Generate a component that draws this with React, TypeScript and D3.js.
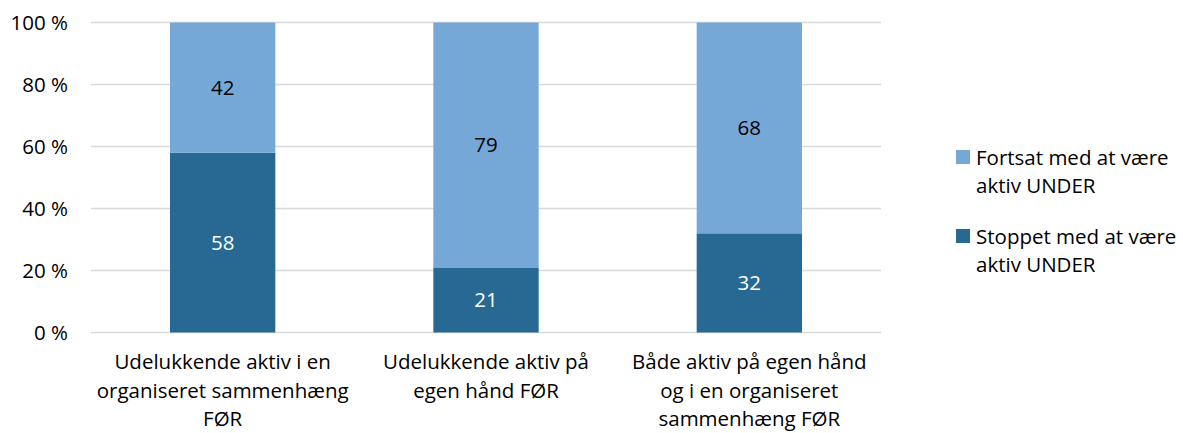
import React from "react";
import * as d3 from "d3";

const categories: string[][] = [
  ["Udelukkende aktiv i en", "organiseret sammenhæng", "FØR"],
  ["Udelukkende aktiv på", "egen hånd FØR"],
  ["Både aktiv på egen hånd", "og i en organiseret", "sammenhæng FØR"],
];
const stoppet: number[] = [58, 21, 32];
const fortsat: number[] = [42, 79, 68];
const yTicks: number[] = [0, 20, 40, 60, 80, 100];
const seriesNames: string[][] = [
  ["Fortsat med at være", "aktiv UNDER"],
  ["Stoppet med at være", "aktiv UNDER"],
];

const W = 1183;
const H = 433;
const FONT = "'Open Sans', Lato, sans-serif";
const FS = 20.5;
const LIGHT = "#76a8d7";
const DARK = "#276993";

export default function App() {
  const left = 91, right = 881, top = 22.5, bottom = 332.5;
  const x = d3.scaleBand<number>().domain(d3.range(categories.length)).range([left, right]).paddingInner(0.6).paddingOuter(0.3);
  const y = d3.scaleLinear().domain([0, 100]).range([bottom, top]);
  const bw = x.bandwidth();

  return (
    <svg width={W} height={H} style={{ position: "absolute", left: 0, top: 0 }} fontFamily={FONT}>
      <rect width={W} height={H} fill="#fff" />
      {yTicks.map((t) => (
        <g key={t}>
          <line x1={left} x2={right} y1={y(t)} y2={y(t)} stroke="#d9d9d9" strokeWidth={1.3} />
          <text x={68} y={y(t)} dy="0.35em" textAnchor="end" fontSize={FS} fill="#000">
            {t} %
          </text>
        </g>
      ))}
      {categories.map((c, i) => {
        const x0 = x(i)!;
        const s = stoppet[i];
        const f = fortsat[i];
        return (
          <g key={i}>
            <rect x={x0} y={y(s)} width={bw} height={y(0) - y(s)} fill={DARK} />
            <rect x={x0} y={y(s + f)} width={bw} height={y(s) - y(s + f)} fill={LIGHT} />
            <text x={x0 + bw / 2} y={(y(0) + y(s)) / 2} dy="0.35em" textAnchor="middle" fontSize={FS} fill="#fff">
              {s}
            </text>
            <text x={x0 + bw / 2} y={(y(s) + y(s + f)) / 2} dy="0.35em" textAnchor="middle" fontSize={FS} fill="#000">
              {f}
            </text>
            {c.map((line, j) => (
              <text key={j} x={x0 + bw / 2} y={362 + j * 28.5} dy="0.35em" textAnchor="middle" fontSize={FS} fill="#000">
                {line}
              </text>
            ))}
          </g>
        );
      })}
      {seriesNames.map((lines, k) => {
        const ly = 158 + k * 79;
        return (
          <g key={k}>
            <rect x={956} y={ly - 8} width={14} height={14} fill={k === 0 ? LIGHT : DARK} />
            {lines.map((l, j) => (
              <text key={j} x={976} y={ly + j * 27.5} dy="0.35em" fontSize={FS} fill="#000">
                {l}
              </text>
            ))}
          </g>
        );
      })}
    </svg>
  );
}
